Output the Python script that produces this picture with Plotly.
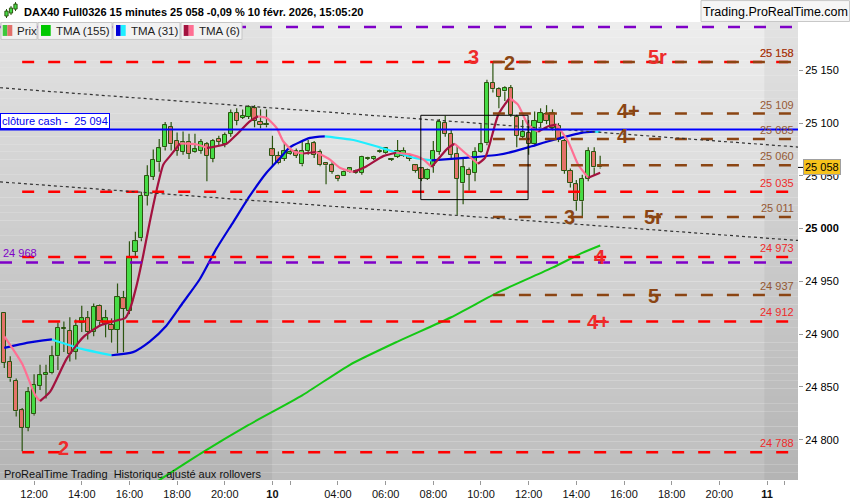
import plotly.graph_objects as go

# ------------------------------------------------------------------ data
# bar index: 0..44 = 9 Feb 10:45..21:45, 45..100 = 10 Feb 01:15..15:00 (15-min bars)
bar_index = list(range(101))
open_ = [24920, 24874, 24856, 24828, 24811, 24824, 24851, 24861, 24863, 24879,
         24905, 24903, 24883, 24911, 24915, 24902, 24927, 24910, 24909, 24904,
         24934, 24922, 24978, 24991, 25031, 25049, 25063, 25077, 25096, 25083,
         25073, 25082, 25073, 25074, 25080, 25066, 25085, 25080, 25090, 25110,
         25105, 25106, 25114, 25101, 25098,
         25075, 25069, 25066, 25071, 25074, 25061, 25074, 25081, 25073, 25062,
         25060, 25050, 25050, 25054, 25053, 25053, 25066, 25066, 25073, 25072,
         25065, 25068, 25069, 25069, 25060, 25057, 25047, 25059, 25073, 25100,
         25090, 25071, 25043, 25056, 25053, 25073, 25081, 25138, 25132, 25130,
         25133, 25106, 25087, 25091, 25080, 25100, 25109, 25110, 25097, 25083,
         25055, 25042, 25026, 25047, 25073, 25059]
high = [24921, 24879, 24858, 24830, 24850, 24862, 24871, 24871, 24889, 24911,
        24912, 24916, 24914, 24927, 24922, 24929, 24928, 24923, 24915, 24948,
        24941, 24988, 24997, 25035, 25060, 25075, 25085, 25101, 25101, 25091,
        25092, 25090, 25090, 25085, 25082, 25085, 25088, 25091, 25113, 25114,
        25113, 25117, 25117, 25113, 25113,
        25088, 25073, 25081, 25076, 25076, 25083, 25084, 25083, 25075, 25063,
        25063, 25051, 25055, 25058, 25056, 25069, 25068, 25069, 25075, 25077,
        25067, 25084, 25077, 25071, 25061, 25058, 25057, 25083, 25104, 25107,
        25094, 25079, 25067, 25058, 25077, 25099, 25141, 25157, 25134, 25135,
        25136, 25108, 25103, 25103, 25111, 25114, 25117, 25113, 25100, 25085,
        25057, 25046, 25051, 25077, 25077, 25069]
low = [24868, 24855, 24822, 24789, 24808, 24823, 24847, 24839, 24862, 24866,
       24883, 24874, 24876, 24902, 24895, 24898, 24908, 24897, 24892, 24882,
       24883, 24919, 24973, 24988, 25022, 25046, 25054, 25074, 25074, 25069,
       25070, 25066, 25072, 25071, 25045, 25063, 25078, 25077, 25087, 25098,
       25104, 25104, 25096, 25095, 25096,
       25059, 25061, 25064, 25070, 25067, 25059, 25070, 25067, 25059, 25042,
       25052, 25045, 25050, 25053, 25052, 25051, 25065, 25065, 25072, 25071,
       25064, 25067, 25068, 25064, 25053, 25045, 25046, 25053, 25070, 25087,
       25065, 25013, 25023, 25036, 25045, 25072, 25079, 25129, 25114, 25121,
       25106, 25077, 25085, 25070, 25078, 25096, 25099, 25093, 25082, 25052,
       25039, 25017, 25010, 25045, 25050, 25057]
close = [24873, 24858, 24827, 24811, 24845, 24852, 24861, 24863, 24879, 24906,
         24906, 24881, 24908, 24915, 24902, 24926, 24912, 24915, 24904, 24935,
         24924, 24973, 24988, 25031, 25050, 25065, 25076, 25098, 25080, 25074,
         25082, 25071, 25075, 25082, 25069, 25083, 25082, 25089, 25110, 25102,
         25107, 25115, 25102, 25098, 25099,
         25069, 25062, 25074, 25073, 25069, 25074, 25080, 25070, 25060, 25060,
         25054, 25047, 25054, 25057, 25055, 25068, 25067, 25068, 25074, 25076,
         25066, 25074, 25074, 25066, 25055, 25047, 25056, 25074, 25101, 25090,
         25070, 25047, 25058, 25051, 25073, 25080, 25138, 25132, 25125, 25133,
         25108, 25088, 25092, 25080, 25102, 25110, 25102, 25095, 25084, 25055,
         25043, 25026, 25047, 25074, 25058, 25058]

# moving averages (bar index, value)
tma155_x = [25, 33, 41, 50, 58, 66, 75, 83, 92, 97, 100]
tma155_y = [24758, 24787, 24814, 24842, 24871, 24893, 24916, 24940, 24963, 24977, 24984]

tma31_x = [0, 4, 8, 13, 18, 21.6, 24.4, 27.2, 30, 32.8, 35.6, 38.4, 41.2, 44, 46.3, 47.9,
           51.3, 53.8, 58.6, 63, 68.9, 71.7, 77.3, 82.9, 85.7, 88.5, 92.4, 96.9, 99.1, 100]
tma31_y = [24887, 24892, 24895, 24886, 24880, 24883, 24893, 24908, 24930, 24952, 24981,
           25006, 25031, 25053, 25067, 25077, 25086, 25087.5, 25084, 25077, 25067, 25064.6,
           25067, 25070, 25073.4, 25078, 25084.4, 25090.8, 25091.8, 25091.6]

tma6_x = [0, 3, 5.2, 6, 7.7, 10.5, 13.3, 16.1, 18.9, 20.3, 21.1, 22.2, 23.3, 24.4, 25.6,
          26.7, 27.8, 29.5, 32.3, 34, 35.1, 37.3, 39, 41.2, 42.6, 44, 45.7, 46.8, 48.5,
          50.2, 52.3, 54.6, 56.3, 58.6, 60.8, 63.6, 65.8, 68.1, 70.3, 71.7, 74.5, 75.6,
          77.3, 79.5, 80.7, 82.9, 84.8, 86.2, 87.9, 89.6, 91.3, 92.7, 94.6, 96.3, 98, 100]
tma6_y = [24898, 24872, 24842, 24836.6, 24845.5, 24877, 24897.4, 24908.3, 24913, 24915.3,
          24924, 24946, 24974.3, 25005.8, 25037.3, 25060.8, 25068.7, 25080.7, 25079.7,
          25076.6, 25077.5, 25080.4, 25089.2, 25101.7, 25106.4, 25104.9, 25095.5, 25082.8,
          25073.4, 25071.2, 25072.6, 25065.6, 25057.7, 25053.6, 25059.2, 25068.7, 25071.9,
          25070.3, 25065.6, 25058.3, 25076.6, 25080.4, 25071.9, 25061.5, 25067.2, 25108,
          25123.8, 25117.5, 25098.6, 25091.7, 25097, 25098.6, 25082.8, 25060.8, 25048.3,
          25053]

# axis ticks
time_tick_index = [5, 13, 21, 29, 37, 45, 48, 56, 64, 72, 80, 88, 96, 104, 112, 120, 128, 131]
time_tick_labels = ["12:00", "14:00", "16:00", "18:00", "20:00", "<b>10</b>", "", "04:00",
                    "06:00", "08:00", "10:00", "12:00", "14:00", "16:00", "18:00", "20:00",
                    "<b>11</b>", ""]
price_ticks = [24800, 24850, 24900, 24950, 25000, 25050, 25100, 25150]
price_tick_labels = ["24 800", "24 850", "24 900", "24 950", "<b>25 000</b>", "25 050",
                     "25 100", "25 150"]

# drawn levels
red_levels = [25158, 25035, 24973, 24912, 24788]
red_level_labels = ["25 158", "25 035", "24 973", "24 912", "24 788"]
brown_levels = [25158, 25109, 25085, 25060, 25011, 24937]
brown_level_labels = ["25 158", "25 109", "25 085", "25 060", "25 011", "24 937"]
purple_levels = [25191, 24968]
cash_close = 25094
last_price = 25058
red_start_bar = 3
brown_start_bar = 82

# trend lines (bar index pairs, price pairs)
trend_upper_x = [-0.72, 133.2]
trend_upper_y = [25133.5, 25077.3]
trend_lower_x = [-0.72, 133.2]
trend_lower_y = [25044.3, 24988.8]

# rectangle drawn on the chart
box_x = [69.9, 87.9]
box_y = [25027.5, 25107.4]

# wave markers
mark_text = ["3", "2", "5r", "4+", "4", "3", "5r", "4", "5", "4+", "2"]
mark_x = [78.7, 84.7, 109.7, 104.7, 103.8, 94.9, 108.9, 100.0, 108.9, 99.8, 10.0]
mark_y = [25162.5, 25157.4, 25163.0, 25111.8, 25087.5, 25010.6, 25010.6, 24972.8,
          24936.6, 24911.5, 24792.5]
mark_kind = ["red", "brown", "red", "brown", "brown", "brown", "brown", "red", "brown",
             "red", "red"]

# ------------------------------------------------------------------ style
X_RANGE = [-0.72, 133.2]
Y_RANGE = [24761.8, 25195.8]
PX_R, PX_T, PX_B = 798, 22, 482
RED, BROWN, PURPLE = "#ff0000", "#8b4513", "#7f00c8"
RED_TXT = "#ee2b2b"
WICK = "#2c5410"
UP_FILL, DOWN_FILL = "#46dc46", "#e4736a"
FONT = "Arial, Liberation Sans, sans-serif"
DASH = "12px,14px"
BODY_W = 0.72


def pxx(px):
    return px / PX_R


def pxy(py):
    return (PX_B - py) / (PX_B - PX_T)


fig = go.Figure()

# candles: wick segments (outside the body) + bodies as bars
wx, wy = [], []
for i, o, h, l, c in zip(bar_index, open_, high, low, close):
    top_b, bot_b = max(o, c), min(o, c)
    wx += [i, i, None, i, i, None]
    wy += [h, top_b, None, bot_b, l, None]
fig.add_trace(go.Scatter(x=wx, y=wy, mode="lines", line=dict(color=WICK, width=1.2),
                         showlegend=False, hoverinfo="skip"))
fig.add_trace(go.Bar(
    x=bar_index,
    base=[min(o, c) for o, c in zip(open_, close)],
    y=[max(abs(c - o), 0.8) for o, c in zip(open_, close)],
    width=BODY_W,
    marker=dict(color=[UP_FILL if c >= o else DOWN_FILL for o, c in zip(open_, close)],
                line=dict(color=WICK, width=1)),
    showlegend=False, hoverinfo="skip"))


def add_colored(xs, ys, up_col, down_col, width):
    segs = []
    cur = [0]
    cur_dir = None
    for i in range(1, len(xs)):
        d = ys[i] >= ys[i - 1]
        if cur_dir is None or d == cur_dir:
            cur.append(i)
            cur_dir = d
        else:
            segs.append((cur_dir, cur))
            cur = [i - 1, i]
            cur_dir = d
    segs.append((cur_dir, cur))
    for d, idx in segs:
        fig.add_trace(go.Scatter(
            x=[xs[i] for i in idx], y=[ys[i] for i in idx], mode="lines",
            line=dict(color=up_col if d else down_col, width=width, shape="spline",
                      smoothing=0.6),
            showlegend=False, hoverinfo="skip"))


fig.add_trace(go.Scatter(x=tma155_x, y=tma155_y, mode="lines",
                         line=dict(color="#14c814", width=2, shape="spline", smoothing=0.6),
                         showlegend=False, hoverinfo="skip"))
add_colored(tma31_x, tma31_y, "#0000d8", "#1eeeff", 2.2)
add_colored(tma6_x, tma6_y, "#a3123f", "#ff6f93", 2.2)

shapes = []
# background gradient
N = 60
top, bot = (237, 237, 237), (189, 189, 189)
for k in range(N):
    t = (k + 0.5) / N
    c = tuple(int(round(top[j] + (bot[j] - top[j]) * t)) for j in range(3))
    shapes.append(dict(type="rect", xref="x domain", yref="y domain", x0=0, x1=1,
                       y0=1 - (k + 1) / N, y1=1 - k / N, layer="below",
                       fillcolor="rgb(%d,%d,%d)" % c, line=dict(width=0)))
for x0, x1 in [(X_RANGE[0], 44.95), (127.55, X_RANGE[1])]:
    shapes.append(dict(type="rect", xref="x", yref="y domain", x0=x0, x1=x1, y0=0, y1=1,
                       layer="below", fillcolor="rgba(0,0,0,0.045)", line=dict(width=0)))

for lv in purple_levels:
    shapes.append(dict(type="line", xref="x", yref="y", x0=X_RANGE[0], x1=X_RANGE[1],
                       y0=lv, y1=lv, line=dict(color=PURPLE, width=2.5, dash=DASH)))
for lv in red_levels:
    shapes.append(dict(type="line", xref="x", yref="y", x0=red_start_bar, x1=X_RANGE[1],
                       y0=lv, y1=lv, line=dict(color=RED, width=2.5, dash=DASH)))
for lv in brown_levels:
    shapes.append(dict(type="line", xref="x", yref="y", x0=brown_start_bar, x1=X_RANGE[1],
                       y0=lv, y1=lv, line=dict(color=BROWN, width=2.5, dash=DASH)))
for xs, ys in [(trend_upper_x, trend_upper_y), (trend_lower_x, trend_lower_y)]:
    shapes.append(dict(type="line", xref="x", yref="y", x0=xs[0], x1=xs[1], y0=ys[0],
                       y1=ys[1], line=dict(color="#333333", width=1.2, dash="3px,3px")))
shapes.append(dict(type="line", xref="x", yref="y", x0=X_RANGE[0], x1=X_RANGE[1],
                   y0=cash_close, y1=cash_close, line=dict(color="#0000ff", width=2)))
shapes.append(dict(type="rect", xref="x", yref="y", x0=box_x[0], x1=box_x[1], y0=box_y[0],
                   y1=box_y[1], line=dict(color="#000000", width=1)))


# header / legend boxes (pixel positions converted to paper coords)
def prect(x0, y0, x1, y1, fill, line="#c4c4c4", lw=1):
    shapes.append(dict(type="rect", xref="paper", yref="paper", x0=pxx(x0), x1=pxx(x1),
                       y0=pxy(y1), y1=pxy(y0), fillcolor=fill, line=dict(color=line, width=lw),
                       layer="above"))


prect(701, 0.5, 849.5, 21.5, "#f6f6f6", "#c8c8c8")
for x0, x1 in [(1, 37), (38, 112), (113, 180), (181, 242)]:
    prect(x0, 22.5, x1, 39.5, "#f2f2f2", "#c6c6c6")
prect(2.7, 25, 7.3, 36, "#3cc83c", "#3cc83c", 0)
prect(7.3, 25, 12.3, 36, "#e2706a", "#e2706a", 0)
prect(41, 25, 50.7, 36, "#00c800", "#00c800", 0)
prect(116, 25, 120.7, 36, "#0000d8", "#0000d8", 0)
prect(120.7, 25, 125.7, 36, "#1eeeff", "#1eeeff", 0)
prect(183.7, 25, 188.7, 36, "#a3123f", "#a3123f", 0)
prect(188.7, 25, 193.7, 36, "#ff6f93", "#ff6f93", 0)
# header icon
for cx, w0, w1, b0, b1 in [(6.5, 18, 9, 16, 11), (11, 15, 6, 13, 8), (15.5, 11, 2, 9, 4)]:
    shapes.append(dict(type="line", xref="paper", yref="paper", x0=pxx(cx), x1=pxx(cx),
                       y0=pxy(w0), y1=pxy(w1), line=dict(color=WICK, width=1)))
    prect(cx - 1.6, b1, cx + 1.6, b0, "#46dc46", WICK, 1)
# small tick for last price label
shapes.append(dict(type="line", xref="paper", yref="y", x0=1.0, x1=pxx(803), y0=last_price,
                   y1=last_price, line=dict(color="#000", width=1)))

ann = []
for lv, lab in zip(red_levels, red_level_labels):
    ann.append(dict(xref="paper", yref="y", x=pxx(796), y=lv, xanchor="right",
                    yanchor="bottom", yshift=1, text=lab, showarrow=False,
                    font=dict(size=11, color=RED_TXT, family=FONT)))
for lv, lab in zip(brown_levels, brown_level_labels):
    ann.append(dict(xref="paper", yref="y", x=pxx(796), y=lv, xanchor="right",
                    yanchor="bottom", yshift=1, text=lab, showarrow=False,
                    font=dict(size=11, color=BROWN, family=FONT), opacity=0.85))
ann.append(dict(xref="paper", yref="y", x=pxx(1), y=purple_levels[1], xanchor="left",
                yanchor="bottom", yshift=1, text="24 968", showarrow=False,
                font=dict(size=11, color=PURPLE, family=FONT)))
ann.append(dict(xref="paper", yref="y", x=0, y=cash_close, xanchor="left", yanchor="bottom",
                text="clôture cash -\u00a0 25 094", showarrow=False, bgcolor="#ffffff",
                bordercolor="#0000ff", borderwidth=1, borderpad=1,
                font=dict(size=11, color="#0000ee", family=FONT)))
for t, x, y, k in zip(mark_text, mark_x, mark_y, mark_kind):
    ann.append(dict(xref="x", yref="y", x=x, y=y, text="<b>%s</b>" % t, showarrow=False,
                    xanchor="center", yanchor="middle",
                    font=dict(size=20, color=RED_TXT if k == "red" else BROWN, family=FONT)))
ann.append(dict(xref="paper", yref="y", x=pxx(803), y=last_price, xanchor="left",
                yanchor="middle",
                text="25 058", showarrow=False, bgcolor="#f6c21c", bordercolor="#a0a0a0",
                borderwidth=1, borderpad=1, font=dict(size=11, color="#000", family=FONT)))
ann.append(dict(xref="paper", yref="paper", x=pxx(2), y=pxy(476), xanchor="left",
                yanchor="middle",
                text="ProRealTime Trading\u00a0 Historique ajusté aux rollovers",
                showarrow=False, font=dict(size=11, color="#111", family=FONT)))
ann.append(dict(xref="paper", yref="paper", x=pxx(22), y=pxy(12), xanchor="left",
                yanchor="middle",
                text="<b>DAX40 Full0326 15 minutes 25 058 -0,09 % 10 févr. 2026, 15:05:20</b>",
                showarrow=False, font=dict(size=11, color="#000", family=FONT)))
ann.append(dict(xref="paper", yref="paper", x=pxx(775.5), y=pxy(11.5), xanchor="center",
                yanchor="middle", text="Trading.ProRealTime.com", showarrow=False,
                font=dict(size=12.5, color="#000", family=FONT)))
for x, txt in [(14.5, "Prix"), (53.5, "TMA (155)"), (128.5, "TMA (31)"), (197, "TMA (6)")]:
    ann.append(dict(xref="paper", yref="paper", x=pxx(x), y=pxy(31), xanchor="left",
                    yanchor="middle",
                    text=txt, showarrow=False, font=dict(size=11.5, color="#222", family=FONT)))

fig.update_layout(
    width=850, height=500, margin=dict(l=0, r=52, t=22, b=18),
    paper_bgcolor="#ffffff", plot_bgcolor="rgba(0,0,0,0)", showlegend=False,
    font=dict(family=FONT, size=11, color="#111"),
    shapes=shapes, annotations=ann, hovermode=False, bargap=0,
    xaxis=dict(range=X_RANGE, showgrid=False, zeroline=False, tickmode="array",
               tickvals=time_tick_index, ticktext=time_tick_labels, ticks="outside",
               ticklen=4, tickcolor="#999", tickfont=dict(size=11, color="#111"),
               fixedrange=True),
    yaxis=dict(range=Y_RANGE, side="right", showgrid=False, zeroline=False,
               tickmode="array", tickvals=price_ticks, ticktext=price_tick_labels,
               ticks="outside", ticklen=4, tickcolor="#999",
               tickfont=dict(size=11, color="#000"), fixedrange=True),
)

fig.write_html("out.html", config={"displayModeBar": False},
               post_script="document.body.style.margin='0';document.body.style.padding='0';"
                           "document.body.style.overflow='hidden';")
